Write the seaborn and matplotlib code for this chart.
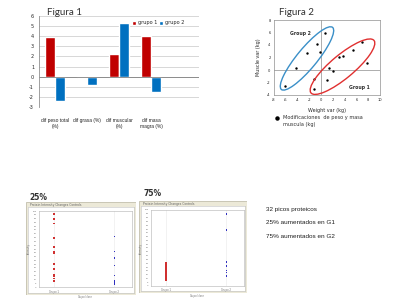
import numpy as np
import pandas as pd
import matplotlib
matplotlib.use("Agg")
import matplotlib.pyplot as plt
import seaborn as sns
from matplotlib.patches import Ellipse, Rectangle

# ---------------- data ----------------
# Figura 1
categorias = ["dif peso total\n(%)", "dif grasa (%)", "dif muscular\n(%)", "dif masa\nmagra (%)"]
series = ["grupo 1", "grupo 2"]
grupo1 = [3.9, -0.1, 2.2, 4.0]
grupo2 = [-2.45, -0.8, 5.3, -1.55]

# Figura 2
peso_var = [-6.13, -4.32, -2.45, -0.76, -0.19, 0.66, -1.21, -1.27, 0.94, 1.28, 2.02, 3.09, 3.66, 5.36, 6.88, 7.73]
musculo_var = [-2.56, 0.27, 2.67, 4.1, 2.83, 5.92, -1.44, -3.04, -1.65, 0.27, -0.16, 2.08, 2.29, 3.2, 4.43, 1.17]
grupos_fig2 = ["Group 2", "Group 1"]
elipse_centro_x = [-2.4, 3.63]
elipse_centro_y = [1.85, 0.53]
elipse_largo = [13.2, 13.6]
elipse_ancho = [3.3, 3.8]
elipse_angulo = [48.6, 37.9]

# Paneles inferiores (intensidad, escala 0-100)
clases = ["Grupo 1", "Grupo 2"]
g1_25 = [95.9, 89.3, 83.5, 64.6, 52.7, 46.5, 44.4, 30.0, 23.5, 16.0, 13.6, 11.1, 8.6, 7.0]
g2_25 = [66.3, 46.5, 38.3, 28.4, 15.2, 8.2, 7.0, 5.3, 4.1]
g1_75 = [31.1, 28.7, 26.6, 24.2, 22.1, 20.5, 19.3, 18.0, 16.4, 14.8, 13.1, 11.5, 9.8, 8.2, 7.0]
g2_75 = [95.0, 73.8, 32.4, 30.7, 26.2, 20.1, 18.0, 13.9, 13.1]
resumen = ["32 picos proteicos", "25% aumentados en G1", "75% aumentados en G2"]

# ---------------- figure ----------------
sns.set_style("white")
plt.rcParams["font.family"] = ["DejaVu Sans"]
plt.rcParams["axes.unicode_minus"] = False
W, H = 404, 304
fig = plt.figure(figsize=(W / 100, H / 100), dpi=100)
fig.patch.set_facecolor("white")
NARROW = ["Liberation Sans Narrow", "Liberation Sans", "DejaVu Sans"]

def ax_px(l, t, r, b, **kw):
    return fig.add_axes([l / W, 1 - b / H, (r - l) / W, (b - t) / H], **kw)

def fig_text(x, y, s, **kw):
    fig.text(x / W, 1 - y / H, s, **kw)

RED = "#C00000"
BLUE = "#0070C0"

# ---- Figura 1 ----
ax1 = ax_px(39, 16, 199, 107)
df1 = pd.DataFrame({
    "cat": categorias * 2,
    "serie": [series[0]] * 4 + [series[1]] * 4,
    "val": grupo1 + grupo2,
})
sns.barplot(data=df1, x="cat", y="val", hue="serie", order=categorias,
            palette=[RED, BLUE], width=0.6, ax=ax1, saturation=1, errorbar=None)
ax1.set_xlim(-0.5, 4.5)
ax1.set_ylim(-3, 6)
ax1.set_yticks(range(-3, 7))
ax1.yaxis.grid(True, color="#C8C8C8", lw=0.5)
ax1.set_axisbelow(True)
ax1.axhline(0, color="#808080", lw=0.6)
for s in ["top", "right", "bottom"]:
    ax1.spines[s].set_visible(False)
ax1.spines["left"].set_color("#909090")
ax1.spines["left"].set_linewidth(0.6)
ax1.tick_params(axis="y", labelsize=3.5, length=1.5, width=0.5, color="#909090", pad=2)
ax1.tick_params(axis="x", labelsize=3.5, length=0, pad=8)
for t in ax1.get_xticklabels():
    t.set_family(NARROW)
ax1.set_xlabel("")
ax1.set_ylabel("")
ax1.legend(loc="upper left", bbox_to_anchor=(0.56, 0.99), ncol=2, fontsize=3.6,
           frameon=False, handlelength=0.8, handleheight=0.8, handletextpad=0.3,
           columnspacing=0.5, borderpad=0.2)
fig_text(47, 15, "Figura 1", fontsize=7, color="#303030", family=["Lato", "DejaVu Sans"])

# ---- Figura 2 ----
ax2 = ax_px(274, 20, 380, 95)
df2 = pd.DataFrame({"x": peso_var, "y": musculo_var})
ax2.axhline(0, color="#A0A0A0", lw=0.6, zorder=0)
ax2.axvline(0, color="#A0A0A0", lw=0.6, zorder=0)
sns.scatterplot(data=df2, x="x", y="y", color="black", s=3, linewidth=0, ax=ax2)
ell_cols = ["#3A8FC8", "#E03030"]
for i in range(2):
    ax2.add_patch(Ellipse((elipse_centro_x[i], elipse_centro_y[i]), elipse_largo[i],
                          elipse_ancho[i], angle=elipse_angulo[i], fill=False,
                          edgecolor=ell_cols[i], lw=1.0))
ax2.text(-5.3, 5.6, grupos_fig2[0], fontsize=3.3, fontweight="bold", color="#303030")
ax2.text(4.8, -3.0, grupos_fig2[1], fontsize=3.3, fontweight="bold", color="#303030")
ax2.set_xlim(-8, 10)
ax2.set_ylim(-4, 8)
ax2.set_xticks(range(-8, 11, 2))
ax2.set_yticks(range(-4, 9, 2))
ax2.tick_params(labelsize=2.6, length=1, width=0.4, pad=1.5)
for s in ax2.spines.values():
    s.set_color("#909090")
    s.set_linewidth(0.5)
ax2.set_xlabel("Weight var (kg)", fontsize=3.5, labelpad=4)
ax2.set_ylabel("Muscle var (kg)", fontsize=3.5, labelpad=4)
fig_text(279, 15, "Figura 2", fontsize=7, color="#303030", family=["Lato", "DejaVu Sans"])
fig.add_artist(plt.Line2D([277 / W], [1 - 118 / H], marker="o", color="black",
                          markersize=2.2, transform=fig.transFigure))
fig_text(283, 121, "Modificaciones  de peso y masa\nmuscula (kg)", fontsize=3.6,
         color="#303030", va="center", linespacing=1.6)

# ---- Paneles inferiores ----
def panel(frame, plot, g1, g2, etiqueta, lab_xy):
    fl, ft, fr, fb = frame
    bg = ax_px(fl, ft, fr, fb)
    bg.set_xlim(0, 1)
    bg.set_ylim(0, 1)
    bg.axis("off")
    bg.add_patch(Rectangle((0, 0), 1, 1, transform=bg.transAxes, facecolor="#ECE9D8",
                           edgecolor="#B8B4A0", lw=0.5))
    inner = ax_px(fl + 2, ft + 5, fr - 2, fb - 2)
    inner.set_xticks([])
    inner.set_yticks([])
    inner.set_facecolor("white")
    for s in inner.spines.values():
        s.set_color("#C0C0C0")
        s.set_linewidth(0.4)
    fig_text(fl + 4, ft + 3, "Protein Intensity Changes Controls", fontsize=2.2,
             color="#606060", va="center")
    l, t, r, b = plot
    ax = ax_px(l, t, r, b)
    df = pd.DataFrame({"clase": [clases[0]] * len(g1) + [clases[1]] * len(g2),
                       "val": g1 + g2})
    sns.stripplot(data=df, x="clase", y="val", hue="clase", order=clases,
                  palette=["#D03030", "#3030C0"], jitter=False, size=1.1, marker="s",
                  linewidth=0, ax=ax, legend=False)
    ax.set_xlim(-0.25, 1.29)
    ax.set_ylim(0, 100)
    ax.set_yticks(range(0, 101, 5))
    ax.set_yticklabels([str(v) for v in range(0, 101, 5)])
    ax.tick_params(axis="y", labelsize=1.6, length=0.8, width=0.3, pad=1, colors="#707070")
    ax.tick_params(axis="x", labelsize=1.8, length=0.8, width=0.3, pad=1, colors="#707070")
    ax.xaxis.grid(True, color="#E8E8E8", lw=0.4)
    ax.set_facecolor("none")
    for s in ax.spines.values():
        s.set_color("#B0B0B0")
        s.set_linewidth(0.4)
    ax.set_xlabel("Grupo/clase", fontsize=1.8, labelpad=1, color="#707070")
    ax.set_ylabel("Intensity", fontsize=1.8, labelpad=1, color="#707070")
    fig_text(lab_xy[0], lab_xy[1], etiqueta, fontsize=5.5, fontweight="bold",
             color="#303030", va="center")

panel((26, 202, 136, 295), (39, 211, 132, 287), g1_25, g2_25, "25%", (29, 197))
panel((139, 201, 247, 293), (151, 210, 244, 286), g1_75, g2_75, "75%", (143, 193))

for i, txt in enumerate(resumen):
    fig_text(266, 209 + 14 * i, txt, fontsize=4.6, color="#202020", va="center",
             family=NARROW)

fig.savefig("out.png", dpi=100, facecolor="white")
